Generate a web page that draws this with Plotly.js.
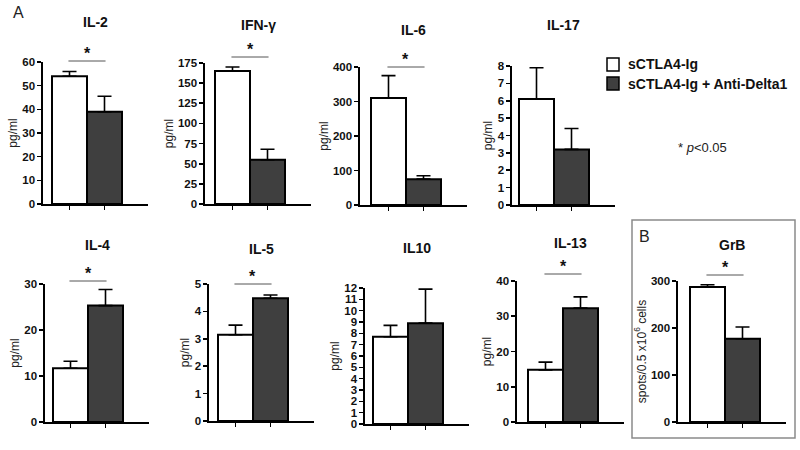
<!DOCTYPE html>
<html>
<head>
<meta charset="utf-8">
<script src="https://cdn.plot.ly/plotly-3.0.1.min.js"></script>
<style>html,body{margin:0;padding:0;background:#fff}#chart{width:800px;height:450px}</style>
</head>
<body>
<div id="chart"></div>
<script>
// ---- data ----
const cytokines   = ["IL-2", "IFN-γ", "IL-6", "IL-17", "IL-4", "IL-5", "IL10", "IL-13", "GrB"];
const seriesNames = ["sCTLA4-Ig", "sCTLA4-Ig + Anti-Delta1"];
const ctrlMean    = [54, 165, 310, 6.1, 11.7, 3.15, 7.7, 14.8, 287];
const ctrlErr     = [2, 5, 65, 1.8, 1.5, 0.35, 1.0, 2.2, 5];
const deltaMean   = [39, 55, 75, 3.2, 25.3, 4.48, 8.9, 32.3, 177];
const deltaErr    = [6.5, 13, 10, 1.2, 3.5, 0.12, 3.0, 3.2, 25];
const yMax        = [60, 175, 400, 8, 30, 5, 12, 40, 300];
const yStep       = [10, 25, 100, 1, 10, 1, 1, 10, 100];
const significant = [true, true, true, false, true, true, false, true, true];
const yTitles     = ["pg/ml", "pg/ml", "pg/ml", "pg/ml", "pg/ml", "pg/ml", "pg/ml", "pg/ml", "spots/0.5 x10<sup>6</sup> cells"];

// ---- layout geometry (pixels) ----
const W = 800, H = 450;
const axLeft   = [43, 205, 360, 512, 45, 209, 365, 517, 678];
const axTop    = [62, 63, 67, 66, 284, 284, 288, 281, 281];
const axBottom = [204, 204, 205, 205, 422, 421, 424, 422, 422];
const barLeft  = [52, 215, 371, 519, 53, 218, 373, 528, 690];
const titleY   = [22, 25, 30, 25, 245, 249, 248, 243, 245];
const sigY     = [61, 57, 67, null, 281, 284, null, 274, 275];
const BARPX = 35, RIGHTPAD = 26;

const FONT = "Liberation Sans, Arial, sans-serif";
const WHITE = "#ffffff", DARK = "#3f3f3f";

const traces = [];
const layout = {
  width: W, height: H,
  margin: {l: 0, r: 0, t: 0, b: 0},
  paper_bgcolor: "#fff", plot_bgcolor: "rgba(0,0,0,0)",
  showlegend: false,
  barmode: "overlay",
  font: {family: FONT, color: "#111"},
  shapes: [], annotations: []
};
const px = x => x / W;
const py = y => 1 - y / H;

cytokines.forEach((name, i) => {
  const n = i + 1;
  const xa = "x" + (n === 1 ? "" : n), ya = "y" + (n === 1 ? "" : n);
  const xk = "xaxis" + (n === 1 ? "" : n), yk = "yaxis" + (n === 1 ? "" : n);
  const r0 = -0.5 - (barLeft[i] - axLeft[i]) / BARPX;
  const r1 = 1.5 + RIGHTPAD / BARPX;
  const right = axLeft[i] + (r1 - r0) * BARPX;
  const means = [ctrlMean[i], deltaMean[i]], errs = [ctrlErr[i], deltaErr[i]];
  [WHITE, DARK].forEach((c, k) => {
    traces.push({
      type: "bar", x: [k], y: [means[k]], width: 1, name: seriesNames[k],
      xaxis: xa, yaxis: ya,
      marker: {color: c, line: {color: "#000", width: 2}},
      error_y: {type: "data", symmetric: false, array: [errs[k]], arrayminus: [0],
                color: "#000", thickness: 1.6, width: 7},
      hoverinfo: "skip"
    });
  });
  layout[xk] = {
    domain: [px(axLeft[i]), px(right)], range: [r0, r1], anchor: ya,
    showline: true, linecolor: "#000", linewidth: 1.6, mirror: false,
    showgrid: false, zeroline: false, tickmode: "array", tickvals: [0, 1],
    ticks: "outside", ticklen: 4, tickwidth: 1.2, tickcolor: "#000", showticklabels: false,
    fixedrange: true
  };
  layout[yk] = {
    domain: [py(axBottom[i]), py(axTop[i])], range: [0, yMax[i]], anchor: xa,
    showline: true, linecolor: "#000", linewidth: 1.6,
    showgrid: false, zeroline: false, tickmode: "linear", tick0: 0, dtick: yStep[i],
    ticks: "outside", ticklen: 4, tickwidth: 1.6, tickcolor: "#000",
    tickfont: {family: FONT, size: 11.5, color: "#111", weight: "bold"},
    title: {text: yTitles[i], font: {family: FONT, size: 12, color: "#222"}, standoff: 2},
    fixedrange: true
  };
  // panel title
  layout.annotations.push({
    xref: "paper", yref: "paper", x: px((axLeft[i] + right) / 2), y: py(titleY[i]),
    xanchor: "center", yanchor: "middle", showarrow: false,
    text: "<b>" + name + "</b>", font: {family: FONT, size: 14, color: "#111"}
  });
  if (significant[i]) {
    const toPx = v => axLeft[i] + (v - r0) * BARPX;
    layout.shapes.push({
      type: "line", xref: "paper", yref: "paper",
      x0: px(toPx(-0.03)), x1: px(toPx(1.03)), y0: py(sigY[i]), y1: py(sigY[i]),
      line: {color: "#555", width: 1}
    });
    layout.annotations.push({
      xref: "paper", yref: "paper", x: px(toPx(0.5)), y: py(sigY[i] + 3),
      xanchor: "center", yanchor: "bottom", showarrow: false,
      text: "<b>*</b>", font: {family: FONT, size: 16, color: "#111"}
    });
  }
});

// legend (drawn manually)
const legColors = [WHITE, DARK];
const legTop = [58, 77];
seriesNames.forEach((s, k) => {
  layout.shapes.push({
    type: "rect", xref: "paper", yref: "paper",
    x0: px(607), x1: px(619), y0: py(legTop[k]), y1: py(legTop[k] + 13),
    fillcolor: legColors[k], line: {color: "#000", width: 1.5}
  });
  layout.annotations.push({
    xref: "paper", yref: "paper", x: px(626), y: py(legTop[k] + 6.5),
    xanchor: "left", yanchor: "middle", showarrow: false,
    text: "<b>" + s + "</b>", font: {family: FONT, size: 14, color: "#111"}
  });
});
layout.annotations.push({
  xref: "paper", yref: "paper", x: px(676), y: py(147), xanchor: "left", yanchor: "middle",
  showarrow: false, text: "* <i>p</i><0.05", font: {family: FONT, size: 13, color: "#222"}
});
// panel letters
layout.annotations.push({
  xref: "paper", yref: "paper", x: px(11), y: py(13), xanchor: "left", yanchor: "middle",
  showarrow: false, text: "A", font: {family: FONT, size: 16, color: "#222"}
});
layout.annotations.push({
  xref: "paper", yref: "paper", x: px(637), y: py(236), xanchor: "left", yanchor: "middle",
  showarrow: false, text: "B", font: {family: FONT, size: 16, color: "#222"}
});
// box around panel B
layout.shapes.push({
  type: "rect", xref: "paper", yref: "paper",
  x0: px(632), x1: px(795), y0: py(220), y1: py(438),
  line: {color: "#8a8a8a", width: 1.5}, fillcolor: "rgba(0,0,0,0)"
});

Plotly.newPlot("chart", traces, layout, {staticPlot: true, displayModeBar: false});
</script>
</body>
</html>
